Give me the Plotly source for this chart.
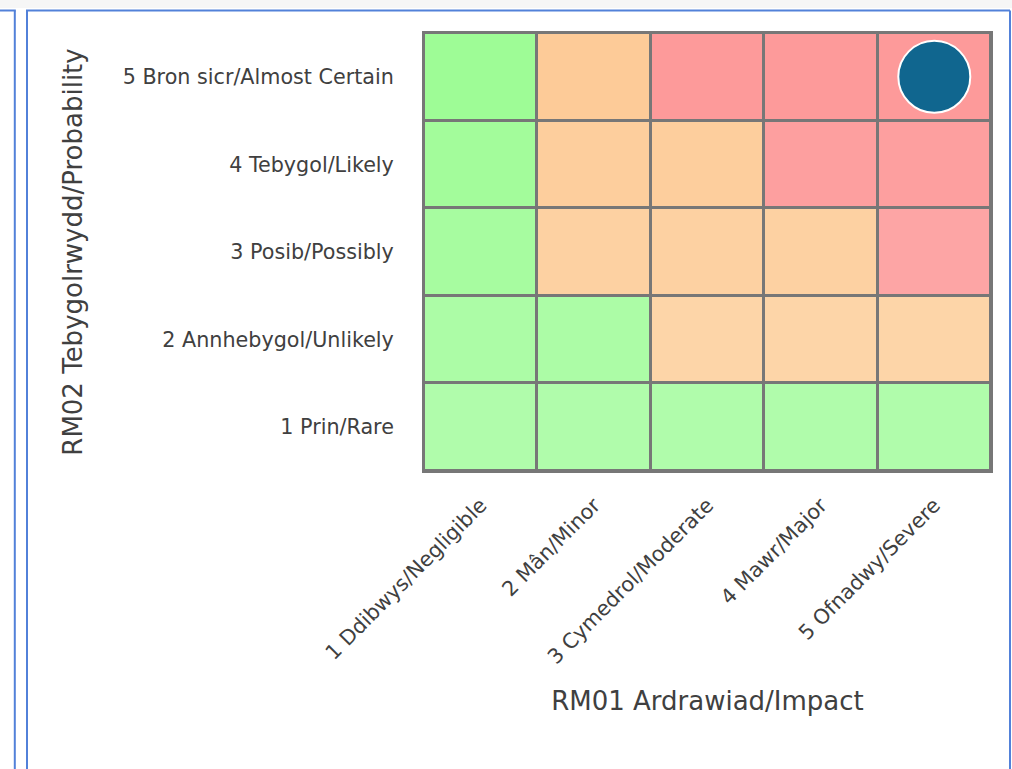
import plotly.graph_objects as go

# ---- data ----
impact_labels = ["1 Ddibwys/Negligible", "2 Mân/Minor", "3 Cymedrol/Moderate",
                 "4 Mawr/Major", "5 Ofnadwy/Severe"]
probability_labels = ["1 Prin/Rare", "2 Annhebygol/Unlikely", "3 Posib/Possibly",
                      "4 Tebygol/Likely", "5 Bron sicr/Almost Certain"]
# risk rating per probability row (bottom to top), per impact column
rating = [
    ["G", "G", "G", "G", "G"],
    ["G", "G", "A", "A", "A"],
    ["G", "A", "A", "A", "R"],
    ["G", "A", "A", "R", "R"],
    ["G", "A", "R", "R", "R"],
]
# shades per row (row 1 lightest .. row 5 deepest)
green_shades = ["#b0fcab", "#acfca6", "#a7fca0", "#a3fc9b", "#9efc96"]
amber_shades = ["#fdd6aa", "#fdd5a8", "#fdd1a2", "#fdce9d", "#fdcb98"]
red_shades = ["#fda7a7", "#fda6a6", "#fda5a5", "#fd9f9f", "#fd9a9a"]

risk_impact = ["5 Ofnadwy/Severe"]
risk_probability = ["5 Bron sicr/Almost Certain"]

# ---- build colour index matrix ----
palette = []
z = []
for r, row in enumerate(rating):
    zrow = []
    for c in row:
        col = {"G": green_shades, "A": amber_shades, "R": red_shades}[c][r]
        if col not in palette:
            palette.append(col)
        zrow.append(palette.index(col))
    z.append(zrow)
n = len(palette)
colorscale = []
for i, col in enumerate(palette):
    colorscale.append([i / n, col])
    colorscale.append([(i + 1) / n, col])

FONT = "DejaVu Sans"
TXT = "#404040"

fig = go.Figure()
fig.add_trace(go.Heatmap(
    x=impact_labels, y=probability_labels, z=z,
    colorscale=colorscale, zmin=-0.5, zmax=n - 0.5,
    showscale=False, xgap=3, ygap=3, hoverinfo="skip",
))
fig.add_trace(go.Scatter(
    x=risk_impact, y=risk_probability, mode="markers",
    marker=dict(size=72, color="#10668f", line=dict(color="white", width=2)),
    showlegend=False, cliponaxis=False,
))

L, R, T, B = 424, 21, 33, 298
W, H = 1012, 769
pw, ph = W - L - R, H - T - B

def px(x):
    return (x - L) / pw

def py(y):
    return (H - B - y) / ph

blue = "#5281d9"
shapes = [
    dict(type="rect", xref="paper", yref="paper", x0=px(0), x1=px(W), y0=py(0), y1=py(8),
         fillcolor="#f6f6f6", line=dict(width=0), layer="below"),
    dict(type="line", xref="paper", yref="paper", x0=px(14.8), x1=px(14.8), y0=py(10.5), y1=py(780),
         line=dict(color=blue, width=2)),
    dict(type="line", xref="paper", yref="paper", x0=px(0), x1=px(15.8), y0=py(10.5), y1=py(10.5),
         line=dict(color=blue, width=2)),
    dict(type="line", xref="paper", yref="paper", x0=px(27), x1=px(27), y0=py(10.5), y1=py(780),
         line=dict(color=blue, width=2)),
    dict(type="line", xref="paper", yref="paper", x0=px(26), x1=px(1010), y0=py(10.5), y1=py(10.5),
         line=dict(color=blue, width=2)),
    dict(type="line", xref="paper", yref="paper", x0=px(1010), x1=px(1010), y0=py(10.5), y1=py(780),
         line=dict(color=blue, width=2)),
]

fig.update_layout(
    width=W, height=H,
    margin=dict(l=L, r=R, t=T, b=B, autoexpand=False),
    paper_bgcolor="white", plot_bgcolor="#777777",
    font=dict(family=FONT, color=TXT, size=20.7),
    shapes=shapes,
    showlegend=False,
)
fig.update_xaxes(
    type="category", categoryorder="array", categoryarray=impact_labels,
    range=[-0.5, 4.5],
    tickangle=-45, tickfont=dict(size=20.7, family=FONT, color=TXT),
    ticks="", ticklabelstandoff=12,
    showline=True, mirror=True, linecolor="#777777", linewidth=2,
    showgrid=False, zeroline=False, automargin=False,
    title=dict(text="RM01 Ardrawiad/Impact", font=dict(size=26, family=FONT, color=TXT), standoff=24),
)
fig.update_yaxes(
    type="category", categoryorder="array", categoryarray=probability_labels,
    range=[-0.5, 4.5],
    tickfont=dict(size=20.7, family=FONT, color=TXT),
    ticks="", ticklabelstandoff=24,
    showline=True, mirror=True, linecolor="#777777", linewidth=2,
    showgrid=False, zeroline=False, automargin=False,
    title=dict(text="RM02 Tebygolrwydd/Probability", font=dict(size=26, family=FONT, color=TXT), standoff=33),
)

fig.write_html(
    "out.html",
    config={"displayModeBar": False},
    post_script="document.body.style.margin='0';document.body.style.overflow='hidden';",
)
